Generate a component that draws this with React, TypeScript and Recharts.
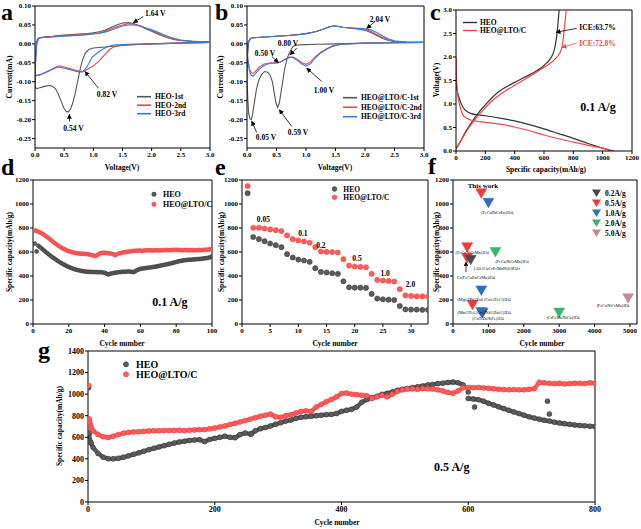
import React from 'react';
import { ComposedChart, Line, Scatter, XAxis, YAxis, ReferenceLine } from 'recharts';

const FONT = '"Liberation Serif", "Times New Roman", serif';
const K = '#000';
const GRAY = '#55555c';
const RED = '#f2454a';
const BLUE = '#2f7fd6';

// ---------- a: CV curves of HEO, [voltage V, current mA]
const cvHeo1st = [[3.0,0.004],[2.7,0.003],[2.4,0.002],[2.0,0.0],[1.7,-0.002],[1.5,-0.004],[1.3,-0.007],[1.15,-0.009],[1.0,-0.011],[0.92,-0.015],[0.86,-0.025],[0.81,-0.045],[0.77,-0.07],[0.73,-0.1],[0.69,-0.13],[0.65,-0.155],[0.61,-0.172],[0.57,-0.18],[0.53,-0.178],[0.49,-0.168],[0.45,-0.152],[0.4,-0.133],[0.35,-0.118],[0.3,-0.112],[0.25,-0.11],[0.2,-0.111],[0.15,-0.113],[0.1,-0.115],[0.05,-0.117],[0.02,-0.118],[0.0,-0.11],[0.01,-0.05],[0.02,0.0],[0.04,0.012],[0.07,0.016],[0.1,0.017],[0.2,0.019],[0.3,0.02],[0.5,0.023],[0.7,0.025],[0.9,0.027],[1.0,0.029],[1.1,0.032],[1.2,0.036],[1.3,0.043],[1.4,0.05],[1.5,0.055],[1.6,0.056],[1.7,0.053],[1.8,0.047],[1.9,0.04],[2.0,0.033],[2.1,0.026],[2.2,0.02],[2.3,0.015],[2.4,0.011],[2.5,0.009],[2.7,0.007],[2.85,0.006],[3.0,0.006]];
const cvHeo2nd = [[3.0,0.004],[2.5,0.002],[2.0,0.0],[1.6,-0.002],[1.45,-0.004],[1.35,-0.008],[1.28,-0.015],[1.2,-0.028],[1.1,-0.045],[1.0,-0.058],[0.9,-0.067],[0.82,-0.073],[0.75,-0.072],[0.65,-0.068],[0.55,-0.063],[0.47,-0.06],[0.41,-0.058],[0.35,-0.062],[0.25,-0.07],[0.15,-0.077],[0.08,-0.082],[0.03,-0.083],[0.0,-0.087],[0.01,-0.04],[0.03,0.0],[0.06,0.014],[0.1,0.016],[0.3,0.019],[0.5,0.021],[0.7,0.023],[0.9,0.025],[1.0,0.027],[1.1,0.029],[1.2,0.033],[1.3,0.039],[1.4,0.045],[1.5,0.05],[1.6,0.053],[1.7,0.052],[1.8,0.048],[1.9,0.042],[2.0,0.036],[2.1,0.029],[2.2,0.022],[2.3,0.016],[2.4,0.012],[2.5,0.009],[2.7,0.006],[3.0,0.005]];
const cvHeo3rd = [[3.0,0.004],[2.5,0.002],[2.0,0.0],[1.6,-0.001],[1.35,-0.003],[1.25,-0.007],[1.15,-0.015],[1.05,-0.026],[0.98,-0.035],[0.93,-0.05],[0.88,-0.063],[0.82,-0.074],[0.75,-0.074],[0.65,-0.07],[0.55,-0.066],[0.47,-0.063],[0.41,-0.061],[0.35,-0.064],[0.25,-0.071],[0.15,-0.078],[0.08,-0.082],[0.03,-0.083],[0.0,-0.085],[0.01,-0.04],[0.03,0.0],[0.06,0.014],[0.1,0.016],[0.3,0.018],[0.5,0.02],[0.7,0.022],[0.9,0.024],[1.0,0.026],[1.1,0.028],[1.2,0.031],[1.3,0.036],[1.4,0.042],[1.5,0.047],[1.6,0.05],[1.7,0.05],[1.8,0.047],[1.9,0.042],[2.0,0.037],[2.1,0.031],[2.2,0.025],[2.3,0.019],[2.4,0.014],[2.5,0.01],[2.7,0.007],[3.0,0.006]];
const cvHeoNames = ['HEO-1st', 'HEO-2nd', 'HEO-3rd'];

// ---------- b: CV curves of HEO@LTO/C
const cvLto1st = [[3.0,0.004],[2.5,0.003],[2.0,0.002],[1.5,0.0],[1.2,-0.001],[1.0,-0.002],[0.85,-0.003],[0.78,-0.006],[0.73,-0.02],[0.68,-0.038],[0.64,-0.065],[0.61,-0.095],[0.58,-0.125],[0.55,-0.155],[0.52,-0.168],[0.49,-0.155],[0.46,-0.128],[0.43,-0.1],[0.39,-0.082],[0.35,-0.075],[0.3,-0.073],[0.25,-0.08],[0.2,-0.095],[0.16,-0.12],[0.12,-0.16],[0.09,-0.19],[0.07,-0.2],[0.05,-0.198],[0.03,-0.185],[0.015,-0.15],[0.0,-0.09],[0.01,-0.03],[0.03,0.005],[0.06,0.014],[0.1,0.016],[0.3,0.018],[0.5,0.02],[0.7,0.022],[0.9,0.025],[1.0,0.027],[1.1,0.03],[1.2,0.034],[1.3,0.039],[1.4,0.045],[1.48,0.048],[1.55,0.046],[1.62,0.044],[1.7,0.043],[1.8,0.041],[1.9,0.039],[2.0,0.036],[2.1,0.03],[2.2,0.022],[2.3,0.014],[2.4,0.009],[2.5,0.006],[2.7,0.004],[3.0,0.004]];
const cvLto2nd = [[3.0,0.004],[2.5,0.003],[2.0,0.002],[1.6,-0.001],[1.45,-0.006],[1.35,-0.013],[1.25,-0.022],[1.15,-0.035],[1.08,-0.047],[1.0,-0.054],[0.93,-0.05],[0.86,-0.042],[0.78,-0.035],[0.72,-0.035],[0.65,-0.04],[0.57,-0.047],[0.5,-0.05],[0.42,-0.05],[0.35,-0.051],[0.28,-0.054],[0.2,-0.062],[0.14,-0.073],[0.1,-0.078],[0.07,-0.076],[0.04,-0.065],[0.02,-0.045],[0.0,-0.02],[0.02,0.005],[0.06,0.014],[0.1,0.016],[0.3,0.018],[0.5,0.02],[0.7,0.022],[0.9,0.025],[1.0,0.027],[1.1,0.03],[1.2,0.034],[1.3,0.039],[1.4,0.045],[1.48,0.047],[1.55,0.046],[1.62,0.044],[1.7,0.043],[1.8,0.041],[1.9,0.04],[2.0,0.038],[2.1,0.033],[2.2,0.025],[2.3,0.017],[2.4,0.011],[2.5,0.007],[2.7,0.005],[3.0,0.004]];
const cvLto3rd = [[3.0,0.004],[2.5,0.003],[2.0,0.002],[1.6,-0.001],[1.45,-0.006],[1.35,-0.014],[1.25,-0.024],[1.15,-0.038],[1.08,-0.052],[1.0,-0.059],[0.93,-0.053],[0.86,-0.044],[0.78,-0.036],[0.72,-0.036],[0.65,-0.041],[0.57,-0.048],[0.5,-0.051],[0.42,-0.051],[0.35,-0.053],[0.28,-0.058],[0.2,-0.068],[0.14,-0.08],[0.1,-0.085],[0.07,-0.083],[0.04,-0.07],[0.02,-0.05],[0.0,-0.025],[0.02,0.005],[0.06,0.014],[0.1,0.016],[0.3,0.018],[0.5,0.02],[0.7,0.022],[0.9,0.025],[1.0,0.027],[1.1,0.03],[1.2,0.034],[1.3,0.039],[1.4,0.045],[1.48,0.047],[1.55,0.046],[1.62,0.044],[1.7,0.043],[1.8,0.042],[1.9,0.041],[2.0,0.04],[2.1,0.037],[2.2,0.03],[2.3,0.021],[2.4,0.013],[2.5,0.008],[2.7,0.005],[3.0,0.004]];
const cvLtoNames = ['HEO@LTO/C-1st', 'HEO@LTO/C-2nd', 'HEO@LTO/C-3rd'];
const cvColors = [GRAY, RED, BLUE];

const cvTicksX = [0, 0.5, 1, 1.5, 2, 2.5, 3];
const cvTicksY = [-0.25, -0.2, -0.15, -0.1, -0.05, 0, 0.05, 0.1];

// ---------- c: first charge/discharge, [capacity mAh/g, voltage V]
const gcdHeoDis = [[0,1.55],[5,1.35],[15,1.2],[30,1.05],[50,0.92],[75,0.84],[100,0.8],[150,0.77],[200,0.75],[300,0.7],[400,0.64],[500,0.56],[600,0.47],[700,0.37],[800,0.27],[900,0.16],[1000,0.06],[1050,0.01]];
const gcdHeoChg = [[0,0.05],[30,0.2],[60,0.38],[100,0.58],[150,0.8],[200,0.98],[250,1.15],[300,1.28],[400,1.46],[500,1.62],[600,1.82],[640,1.95],[670,2.15],[685,2.4],[695,2.7],[703,3.0]];
const gcdLtoDis = [[0,2.0],[3,1.6],[8,1.3],[20,1.05],[40,0.82],[60,0.72],[100,0.66],[200,0.61],[300,0.57],[400,0.51],[500,0.43],[600,0.34],[700,0.26],[800,0.19],[900,0.12],[1000,0.06],[1080,0.0]];
const gcdLtoChg = [[0,0.05],[30,0.2],[60,0.36],[100,0.55],[150,0.75],[200,0.92],[250,1.08],[300,1.2],[400,1.4],[500,1.58],[600,1.78],[680,1.97],[710,2.1],[725,2.25],[735,2.5],[745,2.8],[752,3.0]];
const gcdNames = ['HEO', 'HEO@LTO/C'];
const capTicks = [0, 200, 400, 600, 800, 1000, 1200];
const voltTicks = [0, 0.5, 1, 1.5, 2, 2.5, 3];

// ---------- d: cycling at 0.1 A/g (cycles 1..100)
const dCycles = Array.from({ length: 100 }, (_, i) => i + 1);
const dHeo = [670,605,652,640,628,615,602,590,578,566,555,545,535,525,515,506,498,490,482,475,469,463,458,453,449,445,442,440,438,436,435,434,434,433,433,432,432,431,430,428,420,412,418,422,425,428,430,432,434,435,436,436,437,437,435,432,438,448,455,460,462,464,466,468,470,472,475,477,480,483,486,489,492,495,498,502,505,509,513,517,521,524,527,530,532,534,535,536,537,538,540,541,542,543,545,547,549,552,556,565];
const dLto = [780,775,768,762,755,745,734,723,712,700,688,676,665,654,644,635,627,620,613,607,602,598,594,591,589,587,586,585,584,583,581,578,574,569,566,575,586,592,594,594,592,590,588,586,580,572,582,588,592,595,598,601,603,605,607,609,610,611,612,613,608,612,614,614,615,614,613,614,615,614,613,614,615,616,616,615,616,617,617,618,617,616,615,615,616,615,614,614,615,614,614,615,616,616,617,618,619,620,622,625];
const dTicks = [0, 20, 40, 60, 80, 100];
const capTicks1200 = [0, 200, 400, 600, 800, 1000, 1200];

// ---------- e: rate performance (cycles 1..33)
const eCycles = Array.from({ length: 33 }, (_, i) => i + 1);
const eHeo = [1090,725,708,690,671,657,640,582,554,537,529,518,465,434,429,423,418,356,306,303,303,301,251,212,206,203,200,150,122,120,120,118,118];
const eLto = [1150,802,802,796,788,782,774,738,707,696,688,677,640,604,601,599,596,540,487,479,476,473,418,367,362,359,354,290,239,234,231,230,230];
const eRateText = ['0.05', '0.1', '0.2', '0.5', '1.0', '2.0'];
const eRateX = [3.8, 10.8, 14.0, 20.4, 25.4, 29.9];
const eRateY = [875, 756, 658, 553, 422, 331];
const eTicks = [0, 5, 10, 15, 20, 25, 30];

// ---------- f: comparison with literature
const fRates = ['0.2A/g', '0.5A/g', '1.0A/g', '2.0A/g', '5.0A/g'];
const fRateColors = ['#4a4a4a', '#f23b3b', '#2e6fc6', '#3cb371', '#c48a98'];
const fCycles = [800, 1000, 400, 1200, 400, 500, 800, 550, 830, 800, 3000, 4950];
const fCaps = [1090, 1010, 640, 600, 550, 535, 280, 160, 92, 100, 95, 215];
const fRateIdx = [1, 2, 1, 3, 1, 0, 2, 1, 0, 2, 3, 4];
const fRefText = ['(FeCuNiCrZn)|3|O|4', '(FeCuNiCrMn)|3|O|4', '(FeCuNiCrMn)|3|O|4', '(Al|0.2|CuCrFeMnNi)|0.8|O|4-x', 'Cr(FeCuZnCrMn)|3|O|4', '(Mg|0.2|Ti|0.2|Zn|0.2|Cu|0.2|Fe|0.2|)|3|O|4', '(Mn|0.2|Fe|0.2|Cr|0.2|Ni|0.2|Zn|0.2|)|3|O|4', '(CuTiZnNiFe)|3|O|4', '(CrFeMnNiCu)|3|O|4', '(FeCuNiCrMn)|3|O|4'];
const fRefX = [1243, 537, 1667, 1243, 650, 876, 876, 989, 3107, 4520];
const fRefY = [933, 600, 525, 467, 392, 208, 100, 50, 58, 158];
const fTicks = [0, 1000, 2000, 3000, 4000, 5000];

// ---------- g: long cycling at 0.5 A/g
const gCycles = [1, 2, 3, 4, 5, ...Array.from({ length: 100 }, (_, i) => (i + 1) * 8)];
const gHeo = [1060, 640, 565, 555, 545,
  505, 450, 415, 402, 400, 405, 415, 428, 442, 456,
  470, 485, 498, 510, 522, 535, 546, 556, 563, 570,
  575, 578, 560, 580, 590, 600, 610, 600, 596, 625,
  640, 630, 660, 680, 690, 705, 720, 735, 750, 760,
  775, 785, 790, 795, 800, 805, 810, 812, 820, 840,
  850, 860, 880, 925, 950, 965, 980, 998, 1008, 1020,
  1035, 1045, 1052, 1060, 1068, 1075, 1085, 1090, 1098, 1102,
  1108, 1112, 1105, 1085, 960, 955, 948, 935, 915, 900,
  882, 866, 850, 835, 820, 805, 790, 778, 768, 758,
  750, 740, 732, 726, 720, 714, 710, 706, 703, 700];
const gLto = [1080, 770, 735, 705, 690,
  660, 625, 605, 598, 610, 625, 638, 645, 650, 652,
  655, 658, 660, 660, 662, 663, 664, 665, 662, 666,
  668, 670, 672, 678, 685, 695, 705, 718, 730, 742,
  755, 768, 782, 795, 805, 815, 790, 785, 800, 810,
  825, 840, 845, 838, 880, 905, 930, 950, 975, 1005,
  1010, 1000, 995, 990, 985, 960, 975, 990, 975, 1000,
  1025, 1040, 1048, 1050, 1045, 1052, 1050, 1048, 1040, 1030,
  1015, 1008, 1030, 1060, 1062, 1060, 1062, 1058, 1055, 1050,
  1045, 1042, 1040, 1042, 1040, 1040, 1045, 1050, 1110, 1105,
  1100, 1098, 1100, 1095, 1098, 1102, 1100, 1098, 1105, 1100];
const gHeoOutX = [600, 610, 725, 728, 258];
const gHeoOutY = [1020, 880, 935, 815, 630];
const gxTicks = [0, 200, 400, 600, 800];
const gyTicks = [0, 200, 400, 600, 800, 1000, 1200, 1400];

const P = (arr: number[][]) => arr.map(([x, y]) => ({ x, y }));
const Z = (xs: number[], ys: number[]) => xs.map((x, i) => ({ x, y: ys[i] }));
const T = (xs: number[], ys: number[], ts: string[]) => xs.map((x, i) => ({ x, y: ys[i], t: ts[i] }));

function Frame({ left, top, w, h, yW = 35, rm = 12, xDomain, yDomain, xTicks, yTicks, xFmt, yFmt, fs = 7, children }: any) {
  const tick = { fontSize: fs, fontWeight: 700, fill: K, fontFamily: FONT };
  return (
    <div style={{ position: 'absolute', left: left - yW, top: top - 6 }}>
      <ComposedChart width={yW + w + rm} height={6 + h + 18} margin={{ top: 6, right: rm, bottom: 0, left: 0 }}>
        <XAxis type="number" dataKey="x" domain={xDomain} ticks={xTicks} interval={0} allowDataOverflow tick={tick} tickFormatter={xFmt} stroke={K} tickSize={3} tickMargin={1} height={18} />
        <YAxis type="number" dataKey="y" domain={yDomain} ticks={yTicks} interval={0} allowDataOverflow tick={tick} tickFormatter={yFmt} stroke={K} tickSize={3} tickMargin={1} width={yW} />
        <ReferenceLine x={xDomain[1]} stroke={K} />
        <ReferenceLine y={yDomain[1]} stroke={K} />
        {children}
      </ComposedChart>
    </div>
  );
}

function noteLayer(items: any[], size: number, color = K, weight: any = 700) {
  return (
    <Scatter data={items} dataKey="y" isAnimationActive={false}
      shape={(p: any) => (
        <text x={p.cx} y={p.cy} textAnchor="middle" dominantBaseline="central" fontSize={size} fontWeight={weight} fill={color} fontFamily={FONT}>
          {String(p.payload.t).split('|').map((s: string, i: number) => (
            <tspan key={i} dy={i === 0 ? 0 : i % 2 ? 1.2 : -1.2} fontSize={i % 2 ? size * 0.75 : size}>{s}</tspan>
          ))}
        </text>
      )} />
  );
}

function arrowLayer(segs: number[][], color = K) {
  return segs.map((s, i) => (
    <ReferenceLine key={`ar${color}${i}`} segment={[{ x: s[0], y: s[1] }, { x: s[2], y: s[3] }]} stroke={color} strokeWidth={0.8} markerEnd={color === K ? 'url(#ahk)' : 'url(#ahr)'} />
  ));
}

function dotLayer(data: any[], r: number, fill: string, stroke: string) {
  return (
    <Scatter data={data} dataKey="y" isAnimationActive={false}
      shape={(p: any) => <circle cx={p.cx} cy={p.cy} r={r} fill={fill} stroke={stroke} strokeWidth={0.5} />} />
  );
}

function bandLayer(data: any[], color: string) {
  return <Line data={data} dataKey="y" type="linear" stroke={color} strokeWidth={4.4} dot={false} isAnimationActive={false} />;
}

const f1 = (v: number) => v.toFixed(1);
const f2 = (v: number) => v.toFixed(2);

export default function App() {
  const title = { fontFamily: FONT, fontWeight: 700, fontSize: 7.5, fill: K } as any;
  const letter = { fontFamily: FONT, fontWeight: 700, fontSize: 24, fill: K } as any;
  const leg = { fontFamily: FONT, fontWeight: 700, fontSize: 7.5, fill: K } as any;
  const rot = (x: number, y: number, s: string) => (
    <text transform={`translate(${x},${y}) rotate(-90)`} textAnchor="middle" dominantBaseline="central" {...title}>{s}</text>
  );
  const gHeoPts = Z(gCycles, gHeo);
  const gLtoPts = Z(gCycles, gLto);
  const cut = gCycles.indexOf(600);
  return (
    <div style={{ position: 'absolute', left: 0, top: 0, width: 641, height: 529, background: '#fff', overflow: 'hidden', fontFamily: FONT }}>
      <svg width={0} height={0} style={{ position: 'absolute' }}>
        <defs>
          <marker id="ahk" viewBox="0 0 10 10" refX="9" refY="5" markerWidth="5" markerHeight="5" orient="auto" markerUnits="userSpaceOnUse">
            <path d="M0,0 L10,5 L0,10 z" fill={K} />
          </marker>
          <marker id="ahr" viewBox="0 0 10 10" refX="9" refY="5" markerWidth="5" markerHeight="5" orient="auto" markerUnits="userSpaceOnUse">
            <path d="M0,0 L10,5 L0,10 z" fill={RED} />
          </marker>
        </defs>
      </svg>

      {/* a */}
      <Frame left={35} top={6} w={175} h={142} xDomain={[0, 3]} yDomain={[-0.275, 0.1]} xTicks={cvTicksX} yTicks={cvTicksY} xFmt={f1} yFmt={f2}>
        {[cvHeo1st, cvHeo2nd, cvHeo3rd].map((s, i) => (
          <Line key={`a${i}`} data={P(s)} dataKey="y" type="linear" stroke={cvColors[i]} strokeWidth={1.1} dot={false} isAnimationActive={false} />
        ))}
        {arrowLayer([[1.857, 0.072, 1.685, 0.056], [1.086, -0.117, 0.857, -0.073], [0.59, -0.205, 0.59, -0.186]])}
        {noteLayer(T([2.06, 1.234, 0.66], [0.081, -0.132, -0.222], ['1.64 V', '0.82 V', '0.54 V']), 7.5)}
      </Frame>

      {/* b */}
      <Frame left={247} top={6} w={177} h={142} xDomain={[0, 3]} yDomain={[-0.275, 0.1]} xTicks={cvTicksX} yTicks={cvTicksY} xFmt={f1} yFmt={f2}>
        {[cvLto1st, cvLto2nd, cvLto3rd].map((s, i) => (
          <Line key={`b${i}`} data={P(s)} dataKey="y" type="linear" stroke={cvColors[i]} strokeWidth={1.1} dot={false} isAnimationActive={false} />
        ))}
        {arrowLayer([[0.164, -0.234, 0.08, -0.204], [0.758, -0.218, 0.547, -0.174], [0.419, -0.033, 0.531, -0.049], [0.842, -0.011, 0.729, -0.029], [1.266, -0.099, 1.012, -0.064], [2.17, 0.059, 2.03, 0.041]])}
        {noteLayer(T([0.322, 0.864, 0.305, 0.695, 1.305, 2.254], [-0.247, -0.234, -0.024, 0.003, -0.121, 0.066], ['0.05 V', '0.59 V', '0.50 V', '0.80 V', '1.00 V', '2.04 V']), 7.5)}
      </Frame>

      {/* c */}
      <Frame left={456} top={10} w={176} h={141} xDomain={[0, 1200]} yDomain={[0, 3]} xTicks={capTicks} yTicks={voltTicks} yFmt={f1}>
        <Line data={P(gcdHeoDis)} dataKey="y" type="monotone" stroke="#333" strokeWidth={1.2} dot={false} isAnimationActive={false} />
        <Line data={P(gcdHeoChg)} dataKey="y" type="monotone" stroke="#333" strokeWidth={1.2} dot={false} isAnimationActive={false} />
        <Line data={P(gcdLtoDis)} dataKey="y" type="monotone" stroke={RED} strokeWidth={1.2} dot={false} isAnimationActive={false} />
        <Line data={P(gcdLtoChg)} dataKey="y" type="monotone" stroke={RED} strokeWidth={1.2} dot={false} isAnimationActive={false} />
        {arrowLayer([[823, 2.61, 682, 2.525]])}
        {arrowLayer([[823, 2.30, 722, 2.2]], RED)}
        {noteLayer(T([965], [2.63], ['ICE:63.7%']), 7.5)}
        {noteLayer(T([965], [2.30], ['ICE:72.8%']), 7.5, RED)}
        {noteLayer(T([968], [0.936], ['0.1 A/g']), 12)}
      </Frame>

      {/* d */}
      <Frame left={33} top={180} w={179} h={144} yW={33} xDomain={[0, 100]} yDomain={[0, 1200]} xTicks={dTicks} yTicks={capTicks1200}>
        {dotLayer(Z(dCycles, dHeo), 2.0, '#5c5c5c', '#333')}
        {dotLayer(Z(dCycles, dLto), 2.0, '#ff5c5c', '#e83a3a')}
        {noteLayer(T([76.5], [183], ['0.1 A/g']), 12)}
      </Frame>

      {/* e */}
      <Frame left={242} top={180} w={186} h={144} xDomain={[0, 33]} yDomain={[0, 1200]} xTicks={eTicks} yTicks={capTicks1200}>
        {dotLayer(Z(eCycles, eHeo), 2.6, '#5c5c5c', '#333')}
        {dotLayer(Z(eCycles, eLto), 2.6, '#ff5c5c', '#e83a3a')}
        {noteLayer(T(eRateX, eRateY, eRateText), 7.5)}
      </Frame>

      {/* f */}
      <Frame left={453} top={180} w={184} h={144} rm={4} xDomain={[0, 5200]} yDomain={[0, 1200]} xTicks={fTicks} yTicks={capTicks1200}>
        <Scatter data={fCycles.map((x, i) => ({ x, y: fCaps[i], c: fRateColors[fRateIdx[i]] }))} dataKey="y" isAnimationActive={false}
          shape={(p: any) => <polygon points={`${p.cx - 5.5},${p.cy - 4.5} ${p.cx + 5.5},${p.cy - 4.5} ${p.cx},${p.cy + 5}`} fill={p.payload.c} stroke={p.payload.c} strokeWidth={0.5} />} />
        {arrowLayer([[367, 433, 367, 517]])}
        {noteLayer(T([847], [1150], ['This work']), 7)}
        {noteLayer(T(fRefX, fRefY, fRefText), 4.3, K, 400)}
      </Frame>

      {/* g */}
      <Frame left={88} top={351} w={507} h={151} xDomain={[0, 800]} yDomain={[0, 1400]} xTicks={gxTicks} yTicks={gyTicks} fs={8}>
        {bandLayer(gHeoPts.slice(1, cut), '#5c5c5c')}
        {bandLayer(gHeoPts.slice(cut), '#5c5c5c')}
        {bandLayer(gLtoPts.slice(1), '#ff5c5c')}
        {dotLayer(gHeoPts, 2.5, '#5c5c5c', '#333')}
        {dotLayer(Z(gHeoOutX, gHeoOutY), 2.5, '#5c5c5c', '#333')}
        {dotLayer(gLtoPts, 2.5, '#ff5c5c', '#e83a3a')}
        {noteLayer(T([574], [324], ['0.5 A/g']), 12)}
      </Frame>

      <svg width={641} height={529} style={{ position: 'absolute', left: 0, top: 0, pointerEvents: 'none' }}>
        <text x={1} y={20} {...letter}>a</text>
        <text x={215} y={20} {...letter}>b</text>
        <text x={430} y={20} {...letter}>c</text>
        <text x={1} y={175} {...letter}>d</text>
        <text x={215} y={175} {...letter}>e</text>
        <text x={428} y={174} {...letter}>f</text>
        <text x={38} y={358} {...letter}>g</text>

        <text x={122} y={170} textAnchor="middle" {...title}>Voltage(V)</text>
        {rot(9, 77, 'Current(mA)')}
        <text x={335} y={170} textAnchor="middle" {...title}>Voltage(V)</text>
        {rot(220, 77, 'Current(mA)')}
        <text x={546} y={172} textAnchor="middle" {...title}>Specific capacity(mAh/g)</text>
        {rot(436, 80, 'Voltage(V)')}
        <text x={122} y={346} textAnchor="middle" {...title}>Cycle number</text>
        {rot(9, 252, 'Specific capacity(mAh/g)')}
        <text x={335} y={346} textAnchor="middle" {...title}>Cycle number</text>
        {rot(221, 252, 'Specific capacity(mAh/g)')}
        <text x={542} y={346} textAnchor="middle" {...title}>Cycle number</text>
        {rot(436, 252, 'Specific capacity(mAh/g)')}
        <text x={337} y={525} textAnchor="middle" {...title}>Cycle number</text>
        {rot(59, 426, 'Specific capacity(mAh/g)')}

        {/* legends */}
        {cvHeoNames.map((n, i) => (
          <g key={`la${i}`}>
            <line x1={137} x2={151} y1={[96.7, 105.2, 113.7][i]} y2={[96.7, 105.2, 113.7][i]} stroke={cvColors[i]} strokeWidth={1.6} />
            <text x={155} y={[96.7, 105.2, 113.7][i]} dominantBaseline="central" {...leg}>{n}</text>
          </g>
        ))}
        {cvLtoNames.map((n, i) => (
          <g key={`lb${i}`}>
            <line x1={343} x2={357} y1={[97.7, 107.2, 116.7][i]} y2={[97.7, 107.2, 116.7][i]} stroke={cvColors[i]} strokeWidth={1.6} />
            <text x={361} y={[97.7, 107.2, 116.7][i]} dominantBaseline="central" {...leg}>{n}</text>
          </g>
        ))}
        {gcdNames.map((n, i) => (
          <g key={`lc${i}`}>
            <line x1={463} x2={477} y1={[22.5, 30.5][i]} y2={[22.5, 30.5][i]} stroke={['#333', RED][i]} strokeWidth={1.4} />
            <text x={480} y={[22.5, 30.5][i]} dominantBaseline="central" {...leg} fontSize={7.5}>{n}</text>
          </g>
        ))}
        {gcdNames.map((n, i) => (
          <g key={`ld${i}`}>
            <circle cx={154} cy={[194.3, 204.3][i]} r={2.2} fill={['#5c5c5c', '#ff5c5c'][i]} stroke={['#333', '#e83a3a'][i]} strokeWidth={0.5} />
            <text x={163} y={[194.3, 204.3][i]} dominantBaseline="central" {...leg} fontSize={8}>{n}</text>
          </g>
        ))}
        {gcdNames.map((n, i) => (
          <g key={`le${i}`}>
            <circle cx={334.5} cy={[189, 197.3][i]} r={2.4} fill={['#5c5c5c', '#ff5c5c'][i]} stroke={['#333', '#e83a3a'][i]} strokeWidth={0.5} />
            <text x={343.3} y={[189, 197.3][i]} dominantBaseline="central" {...leg} fontSize={7.5}>{n}</text>
          </g>
        ))}
        {gcdNames.map((n, i) => (
          <g key={`lg${i}`}>
            <circle cx={126} cy={[364.3, 374.3][i]} r={2.6} fill={['#5c5c5c', '#ff5c5c'][i]} stroke={['#333', '#e83a3a'][i]} strokeWidth={0.5} />
            <text x={136} y={[364.3, 374.3][i]} dominantBaseline="central" {...leg} fontSize={10}>{n}</text>
          </g>
        ))}
        {fRates.map((n, i) => (
          <g key={`lf${i}`}>
            <polygon points={`${592},${189.5 + i * 10} ${601},${189.5 + i * 10} ${596.5},${197 + i * 10}`} fill={fRateColors[i]} />
            <text x={605} y={193.3 + i * 10} dominantBaseline="central" {...leg} fontSize={7.5}>{n}</text>
          </g>
        ))}
      </svg>
    </div>
  );
}
